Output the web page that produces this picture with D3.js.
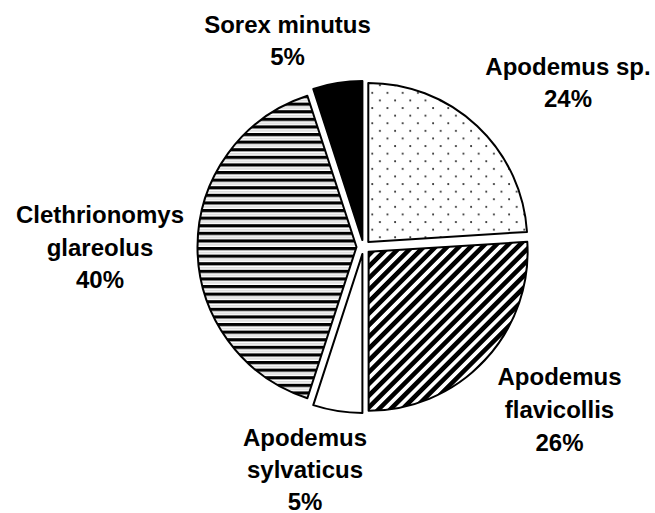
<!DOCTYPE html>
<html>
<head>
<meta charset="utf-8">
<script src="https://cdn.jsdelivr.net/npm/d3@7"></script>
<style>
  html, body { margin: 0; padding: 0; background: #fff; }
  svg text { font-family: "Liberation Sans", Arial, sans-serif; font-weight: bold; font-size: 24px; fill: #000; }
</style>
</head>
<body>
<svg id="chart" width="655" height="513"></svg>
<script>
// ---- data ----
const categories = ["Apodemus sp.", "Apodemus flavicollis", "Apodemus sylvaticus", "Clethrionomys glareolus", "Sorex minutus"];
const labelLines = [["Apodemus sp."], ["Apodemus", "flavicollis"], ["Apodemus", "sylvaticus"], ["Clethrionomys", "glareolus"], ["Sorex minutus"]];
const values = [24, 26, 5, 40, 5];
const fills = ["url(#dots)", "url(#diag)", "#ffffff", "url(#horiz)", "#000000"];

// ---- layout ----
const W = 655, H = 513;
const cx = 363.5, cy = 247, R = 159, explode = 7;
// label anchor (center x, first baseline y) per slice
const labelAnchor = [[568, 75], [559.5, 385], [305, 446], [100, 223], [287.5, 33]];
const lineGaps = [31.5, 33, 32, 32.5, 32];

const svg = d3.select("#chart");
const defs = svg.append("defs");

// dotted pattern
const pd = defs.append("pattern").attr("id", "dots").attr("patternUnits", "userSpaceOnUse")
  .attr("width", 15.2).attr("height", 15.2).attr("x", 2).attr("y", 1);
pd.append("rect").attr("width", 15.2).attr("height", 15.2).attr("fill", "#fff");
pd.append("circle").attr("cx", 2).attr("cy", 2).attr("r", 1).attr("fill", "#222");
pd.append("circle").attr("cx", 9.6).attr("cy", 9.6).attr("r", 1).attr("fill", "#222");

// wide upward diagonal
const pg = defs.append("pattern").attr("id", "diag").attr("patternUnits", "userSpaceOnUse")
  .attr("width", 8.3).attr("height", 8.3).attr("patternTransform", "rotate(-45)");
pg.append("rect").attr("width", 8.3).attr("height", 8.3).attr("fill", "#fff");
pg.append("rect").attr("width", 8.3).attr("height", 4.6).attr("fill", "#000");

// horizontal stripes
const ph = defs.append("pattern").attr("id", "horiz").attr("patternUnits", "userSpaceOnUse")
  .attr("width", 10).attr("height", 7.6);
ph.append("rect").attr("width", 10).attr("height", 7.6).attr("fill", "#fff");
ph.append("rect").attr("y", 0).attr("width", 10).attr("height", 3.2).attr("fill", "#000");
ph.append("rect").attr("y", 5.2).attr("width", 10).attr("height", 0.8).attr("fill", "#bbb");

const pie = d3.pie().sort(null).value(d => d).startAngle(0).endAngle(2 * Math.PI);
const arcs = pie(values);
const arc = d3.arc().innerRadius(0).outerRadius(R);

const g = svg.append("g").attr("transform", `translate(${cx},${cy})`);
g.selectAll("path.slice").data(arcs).enter().append("path")
  .attr("class", "slice")
  .attr("transform", d => {
    const a = (d.startAngle + d.endAngle) / 2;
    return `translate(${explode * Math.sin(a)},${-explode * Math.cos(a)})`;
  })
  .attr("d", arc)
  .attr("fill", (d, i) => fills[i])
  .attr("stroke", "#000")
  .attr("stroke-width", 2)
  .attr("stroke-linejoin", "round");

const total = d3.sum(values);
const lab = svg.append("g");
arcs.forEach((d, i) => {
  const lines = labelLines[i].concat([Math.round(values[i] / total * 100) + "%"]);
  const t = lab.append("text").attr("text-anchor", "middle");
  lines.forEach((ln, k) => {
    t.append("tspan").attr("x", labelAnchor[i][0]).attr("y", labelAnchor[i][1] + k * lineGaps[i]).text(ln);
  });
});
</script>
</body>
</html>
